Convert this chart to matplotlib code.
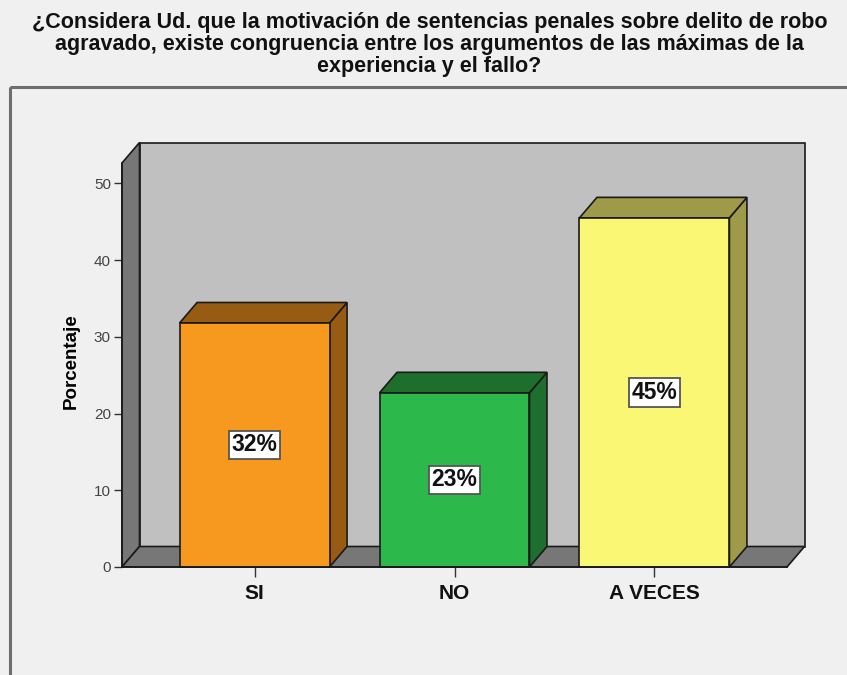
import matplotlib
matplotlib.use("Agg")
import matplotlib.pyplot as plt
from matplotlib.patches import Polygon, Rectangle

categories = ["SI", "NO", "A VECES"]
values = [31.8, 22.7, 45.5]
labels = ["32%", "23%", "45%"]
yticks = [0, 10, 20, 30, 40, 50]
front_colors = ["#f7981f", "#2db84b", "#faf774"]
side_colors = ["#985b13", "#1e6f2d", "#9e9a48"]

title = ("¿Considera Ud. que la motivación de sentencias penales sobre delito de robo\n"
         "agravado, existe congruencia entre los argumentos de las máximas de la\n"
         "experiencia y el fallo?")

W, H = 847, 675
fig = plt.figure(figsize=(W / 100, H / 100), dpi=100, facecolor="#f0f0f0")
plt.rcParams['font.family'] = ['Liberation Sans', 'DejaVu Sans']

# outer frame
frame_ax = fig.add_axes([0, 0, 1, 1], facecolor="none")
frame_ax.set_xlim(0, W); frame_ax.set_ylim(H, 0); frame_ax.axis("off")
frame_ax.add_patch(Rectangle((10, 87), 900, 700, fill=False, edgecolor="#6e6e6e", lw=2.2))

# plot axes: front plane
x0, x1 = 122, 787
yb, yt = 567, 163
ax = fig.add_axes([x0 / W, (H - yb) / H, (x1 - x0) / W, (yb - yt) / H], facecolor="none")
xmin, xmax = -0.663, 2.663
ymax = 52.65
ax.set_xlim(xmin, xmax)
ax.set_ylim(0, ymax)

px_per_x = (x1 - x0) / (xmax - xmin)
px_per_y = (yb - yt) / ymax
ddx = 17.5 / px_per_x
ddy = 20.5 / px_per_y

wall = "#c0c0c0"
dark = "#777777"
ec = "#1a1a1a"
lw = 1.2

# back wall
ax.add_patch(Polygon([(xmin + ddx, ddy), (xmax + ddx, ddy), (xmax + ddx, ymax + ddy), (xmin + ddx, ymax + ddy)],
                     closed=True, facecolor=wall, edgecolor=ec, lw=lw, clip_on=False, zorder=1))
# left wall
ax.add_patch(Polygon([(xmin, 0), (xmin + ddx, ddy), (xmin + ddx, ymax + ddy), (xmin, ymax)],
                     closed=True, facecolor=dark, edgecolor=ec, lw=lw, clip_on=False, zorder=2))
# floor
ax.add_patch(Polygon([(xmin, 0), (xmax, 0), (xmax + ddx, ddy), (xmin + ddx, ddy)],
                     closed=True, facecolor=dark, edgecolor=ec, lw=lw, clip_on=False, zorder=2))

bw = 0.75
for i, (v, fc, sc, lab) in enumerate(zip(values, front_colors, side_colors, labels)):
    l, r = i - bw / 2, i + bw / 2
    ax.add_patch(Polygon([(r, 0), (r + ddx, ddy), (r + ddx, v + ddy), (r, v)],
                         closed=True, facecolor=sc, edgecolor=ec, lw=lw, clip_on=False, zorder=3))
    ax.add_patch(Polygon([(l, v), (r, v), (r + ddx, v + ddy), (l + ddx, v + ddy)],
                         closed=True, facecolor=sc, edgecolor=ec, lw=lw, clip_on=False, zorder=3))
    ax.add_patch(Rectangle((l, 0), bw, v, facecolor=fc, edgecolor=ec, lw=lw, clip_on=False, zorder=4))
    ax.text(i, v / 2, lab, ha="center", va="center", fontsize=16.5, fontweight="bold", color="#111111",
            zorder=6, bbox=dict(boxstyle="square,pad=0.12", facecolor="white", edgecolor="#555555", lw=1.3))

for s in ["top", "right"]:
    ax.spines[s].set_visible(False)
ax.spines["left"].set_color(ec)
ax.spines["bottom"].set_color(ec)
ax.spines["left"].set_linewidth(lw)
ax.spines["bottom"].set_linewidth(lw)
ax.spines["left"].set_zorder(5)
ax.spines["bottom"].set_zorder(5)

ax.set_yticks(yticks)
ax.set_yticklabels([str(t) for t in yticks], fontsize=11, color="#444444")
ax.set_xticks(range(len(categories)))
ax.set_xticklabels(categories, fontsize=15, fontweight="bold", color="#111111")
ax.tick_params(axis="y", length=6, width=1, color="#333333", pad=2)
ax.tick_params(axis="x", length=7, width=1, color="#333333", pad=5)
ax.set_ylabel("Porcentaje", fontsize=13.5, fontweight="bold")
ax.yaxis.set_label_coords(-0.063, 0.51)

fig.text(0.507, 0.982, title, ha="center", va="top", fontsize=15.5, fontweight="bold",
         color="#111111", linespacing=1.07)

fig.savefig("out.png", dpi=100, facecolor=fig.get_facecolor())
